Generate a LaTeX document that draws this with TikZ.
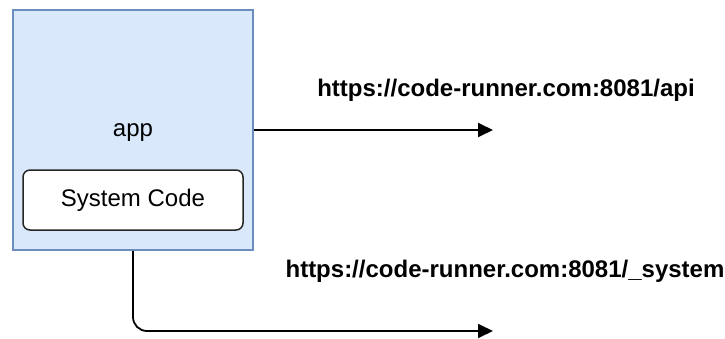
\documentclass[tikz,border=0pt]{standalone}
\usepackage{fontspec}
\setmainfont{Liberation Sans}
\usetikzlibrary{arrows.meta}
\definecolor{appfill}{HTML}{DAE8FC}
\definecolor{appline}{HTML}{6C8EBF}

\begin{document}
\begin{tikzpicture}[
    x=1pt, y=-1pt,
    font=\fontsize{24}{28}\selectfont,
    container/.style={draw=appline, fill=appfill, line width=1.5pt,
      minimum width=240pt, minimum height=240pt, inner sep=0pt},
    module/.style={draw=black!85, fill=white, line width=1.5pt, rounded corners=7pt,
      minimum width=220pt, minimum height=60pt, inner sep=0pt},
    call/.style={line width=1.8pt, -{Triangle[length=15pt, width=14pt]}, rounded corners=14pt},
    url/.style={font=\fontsize{24}{28}\selectfont\bfseries},
  ]
  \useasboundingbox (0,0) rectangle (725,338);

  % --- app container with its system module -------------------------------
  \node[container] (app) at (133,130) {};
  \node (applabel) at (133,133) {app};
  \node[module] (syscode) at (133,200) {System Code};

  % --- outgoing calls --------------------------------------------------------
  \coordinate (apiend) at (493,130);
  \coordinate (sysend) at (493,331);
  \draw[call] (app.east) -- (apiend);
  \draw[call] (app.south) |- (sysend);

  \node[url] (apiurl) at (506,90) {https://code-runner.com:8081/api};
  \node[url] (sysurl) at (505,271) {https://code-runner.com:8081/\_system};

\end{tikzpicture}
\end{document}
